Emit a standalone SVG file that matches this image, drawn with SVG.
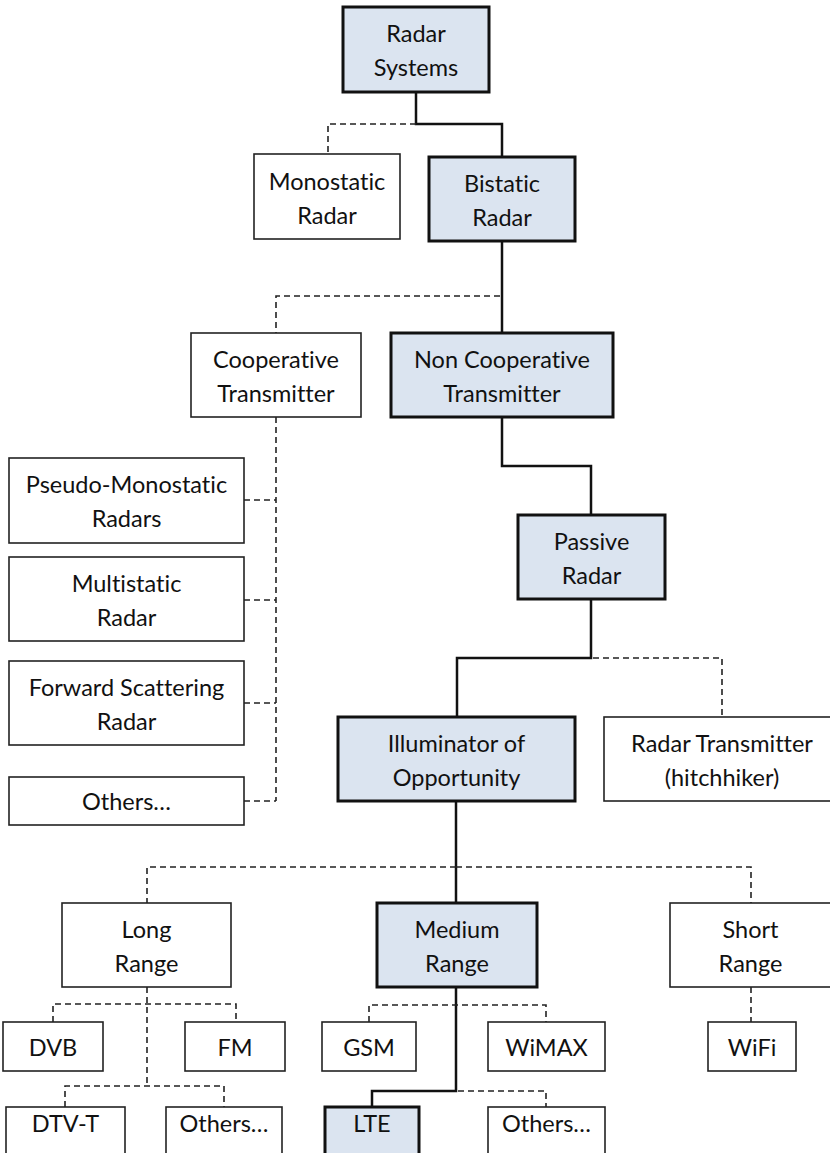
<svg xmlns="http://www.w3.org/2000/svg" width="830" height="1153" viewBox="0 0 830 1153">
<style>
  .bg{fill:#ffffff}
  .n rect{fill:#ffffff;stroke:#222;stroke-width:1.6}
  .n.h rect{fill:#dbe4f0;stroke:#111;stroke-width:3}
  .n text{font-family:Lato,"Liberation Sans",sans-serif;font-size:23.5px;fill:#111;text-anchor:middle;font-variant-ligatures:none;font-feature-settings:"liga" 0,"dlig" 0}
  .solid{fill:none;stroke:#111;stroke-width:2.5}
  .dash{fill:none;stroke:#222;stroke-width:1.6;stroke-dasharray:6 4}
</style>
<rect class="bg" x="0" y="0" width="830" height="1153"/>
<g id="connectors">
  <path class="solid" d="M416 92 V124 H502 V157"/>
  <path class="solid" d="M502 241 V333"/>
  <path class="solid" d="M502 417 V466 H591 V515"/>
  <path class="solid" d="M591 599 V658 H457 V717"/>
  <path class="solid" d="M456 801 V903"/>
  <path class="solid" d="M456 987 V1091 H372 V1107"/>
  <path class="dash" d="M416 124 H328 V154"/>
  <path class="dash" d="M500 296 H276 V333"/>
  <path class="dash" d="M276 417 V801"/>
  <path class="dash" d="M244 500 H276"/>
  <path class="dash" d="M244 600 H276"/>
  <path class="dash" d="M244 703 H276"/>
  <path class="dash" d="M244 801 H276"/>
  <path class="dash" d="M593 658 H722 V717"/>
  <path class="dash" d="M456 867 H147 V903"/>
  <path class="dash" d="M456 867 H751 V903"/>
  <path class="dash" d="M147 987 V1086"/>
  <path class="dash" d="M53 1022 V1004 H236 V1022"/>
  <path class="dash" d="M65 1107 V1086 H224 V1107"/>
  <path class="dash" d="M369 1022 V1005 H546 V1022"/>
  <path class="dash" d="M751 987 V1022"/>
  <path class="dash" d="M458 1091 H546 V1107"/>
</g>
<g id="radar-systems" class="n h"><rect x="343" y="7" width="146" height="85"/><text x="416" y="42">Radar</text><text x="416" y="76">Systems</text></g>
<g id="monostatic" class="n"><rect x="254" y="154" width="146" height="85"/><text x="327" y="189.5">Monostatic</text><text x="327" y="223.5">Radar</text></g>
<g id="bistatic" class="n h"><rect x="429" y="157" width="146" height="84"/><text x="502" y="192">Bistatic</text><text x="502" y="226">Radar</text></g>
<g id="cooperative" class="n"><rect x="191" y="333" width="170" height="84"/><text x="276" y="368">Cooperative</text><text x="276" y="402">Transmitter</text></g>
<g id="non-cooperative" class="n h"><rect x="391" y="333" width="222" height="84"/><text x="502" y="368">Non Cooperative</text><text x="502" y="402">Transmitter</text></g>
<g id="pseudo-monostatic" class="n"><rect x="9" y="458" width="235" height="85"/><text x="126.5" y="493">Pseudo-Monostatic</text><text x="126.5" y="527">Radars</text></g>
<g id="multistatic" class="n"><rect x="9" y="557" width="235" height="84"/><text x="126.5" y="592">Multistatic</text><text x="126.5" y="626">Radar</text></g>
<g id="forward-scattering" class="n"><rect x="9" y="661" width="235" height="84"/><text x="126.5" y="696">Forward Scattering</text><text x="126.5" y="730">Radar</text></g>
<g id="others-coop" class="n"><rect x="9" y="777" width="235" height="48"/><text x="126.5" y="810">Others…</text></g>
<g id="passive" class="n h"><rect x="518" y="515" width="147" height="84"/><text x="591.5" y="550">Passive</text><text x="591.5" y="584">Radar</text></g>
<g id="illuminator" class="n h"><rect x="338" y="717" width="237" height="84"/><text x="456.5" y="752">Illuminator of</text><text x="456.5" y="786">Opportunity</text></g>
<g id="hitchhiker" class="n"><rect x="604" y="717" width="237" height="84"/><text x="722" y="752">Radar Transmitter</text><text x="722" y="786">(hitchhiker)</text></g>
<g id="long-range" class="n"><rect x="62" y="903" width="169" height="84"/><text x="146.5" y="938">Long</text><text x="146.5" y="972">Range</text></g>
<g id="medium-range" class="n h"><rect x="377" y="903" width="160" height="84"/><text x="457" y="938">Medium</text><text x="457" y="972">Range</text></g>
<g id="short-range" class="n"><rect x="670" y="903" width="161" height="84"/><text x="750.5" y="938">Short</text><text x="750.5" y="972">Range</text></g>
<g id="dvb" class="n"><rect x="3" y="1022" width="100" height="49"/><text x="53" y="1055.5">DVB</text></g>
<g id="fm" class="n"><rect x="185" y="1022" width="100" height="49"/><text x="235" y="1055.5">FM</text></g>
<g id="gsm" class="n"><rect x="322" y="1022" width="94" height="49"/><text x="369" y="1055.5">GSM</text></g>
<g id="wimax" class="n"><rect x="488" y="1022" width="117" height="49"/><text x="546.5" y="1055.5">WiMAX</text></g>
<g id="wifi" class="n"><rect x="708" y="1022" width="88" height="49"/><text x="752" y="1055.5">WiFi</text></g>
<g id="dtv-t" class="n"><rect x="6" y="1107" width="119" height="60"/><text x="65.5" y="1132">DTV-T</text></g>
<g id="others-long" class="n"><rect x="166" y="1107" width="116" height="60"/><text x="224" y="1132">Others…</text></g>
<g id="lte" class="n h"><rect x="325" y="1107" width="94" height="60"/><text x="372" y="1132">LTE</text></g>
<g id="others-medium" class="n"><rect x="488" y="1107" width="117" height="60"/><text x="546.5" y="1132">Others…</text></g>
</svg>
